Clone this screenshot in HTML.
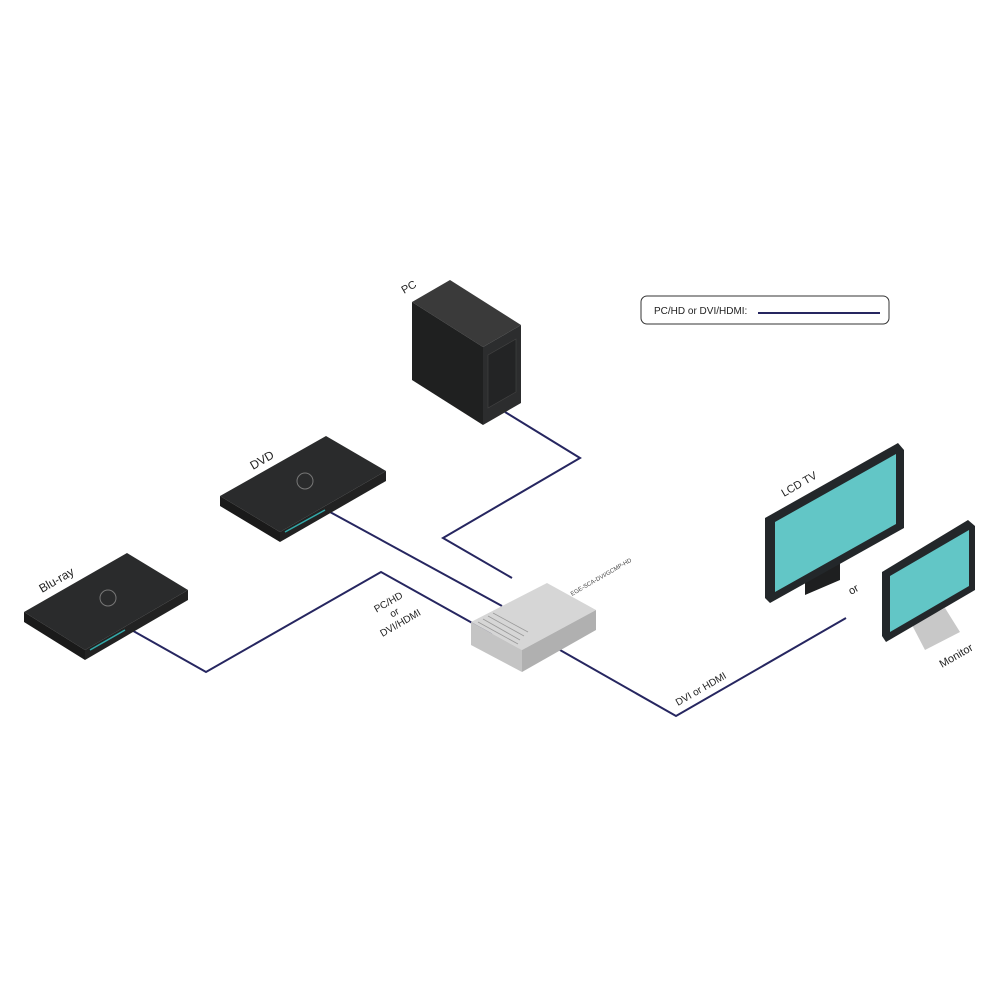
<!DOCTYPE html>
<html><head><meta charset="utf-8"><style>body{margin:0;background:#fff}svg{display:block;font-family:"Liberation Sans",sans-serif}</style></head><body>
<svg width="1000" height="1000" viewBox="0 0 1000 1000">
<g fill="none" stroke="#262660" stroke-width="2">
<polyline points="505,412 580,458 443,538 512,578"/>
<polyline points="330,512 502,606"/>
<polyline points="128,628 206,672 381,572 492,634"/>
<polyline points="560,650 676,716 846,618"/>
</g>
<!-- legend -->
<rect x="641" y="296" width="248" height="28" rx="6" fill="#fff" stroke="#333" stroke-width="1"/>
<text x="654" y="314" font-size="10" fill="#222">PC/HD or DVI/HDMI:</text>
<line x1="758" y1="313" x2="880" y2="313" stroke="#262660" stroke-width="2"/>
<!-- PC -->
<polygon points="412,302 450,280 521,325 483,347" fill="#3a3a3a"/>
<polygon points="412,302 483,347 483,425 412,380" fill="#1f2020"/>
<polygon points="483,347 521,325 521,403 483,425" fill="#2c2d2e"/>
<polygon points="488,355 516,339 516,392 488,408" fill="#232425" stroke="#444" stroke-width="0.6"/>
<text x="0" y="0" font-size="11" fill="#222" transform="translate(404,294) rotate(-30)">PC</text>
<!-- DVD -->
<polygon points="220,496 326,436 386,471 280,532" fill="#2a2b2c"/>
<polygon points="220,496 280,532 280,542 220,506" fill="#1a1a1a"/>
<polygon points="280,532 386,471 386,481 280,542" fill="#222"/>
<circle cx="305" cy="481" r="8" fill="none" stroke="#777" stroke-width="1"/>
<line x1="285" y1="532" x2="325" y2="510" stroke="#3aa" stroke-width="1.5"/>
<text x="0" y="0" font-size="12" fill="#222" transform="translate(253,470) rotate(-30)">DVD</text>
<!-- Blu-ray -->
<polygon points="24,612 127,553 188,590 85,650" fill="#2a2b2c"/>
<polygon points="24,612 85,650 85,660 24,622" fill="#1a1a1a"/>
<polygon points="85,650 188,590 188,600 85,660" fill="#222"/>
<circle cx="108" cy="598" r="8" fill="none" stroke="#777" stroke-width="1"/>
<line x1="90" y1="650" x2="125" y2="630" stroke="#3aa" stroke-width="1.5"/>
<text x="0" y="0" font-size="12" fill="#222" transform="translate(42,593) rotate(-30)">Blu-ray</text>
<!-- central box -->
<polygon points="471,622 547,583 596,610 522,650" fill="#d6d6d6"/>
<polygon points="471,622 522,650 522,672 471,645" fill="#c4c4c4"/>
<polygon points="522,650 596,610 596,630 522,672" fill="#b0b0b0"/>
<g stroke="#999" stroke-width="0.8">
<line x1="478" y1="622" x2="518" y2="644"/><line x1="483" y1="619" x2="520" y2="640"/>
<line x1="488" y1="616" x2="524" y2="636"/><line x1="493" y1="613" x2="528" y2="632"/>
</g>
<text x="0" y="0" font-size="6" fill="#444" transform="translate(572,596) rotate(-30)">EGE-SCA-DVI/GCMP-HD</text>
<text x="0" y="0" font-size="10" fill="#222" text-anchor="middle" transform="translate(390,605) rotate(-30)"><tspan x="0" y="0">PC/HD</tspan><tspan x="0" y="12">or</tspan><tspan x="0" y="24">DVI/HDMI</tspan></text>
<text x="0" y="0" font-size="10" fill="#222" transform="translate(678,706) rotate(-30)">DVI or HDMI</text>
<!-- LCD TV -->
<polygon points="805,580 840,560 840,580 805,595" fill="#1e1f20"/>
<polygon points="765,518 898,443 904,450 904,528 770,603 765,598" fill="#23272a"/>
<polygon points="775,522 896,454 896,524 775,592" fill="#62c6c6"/>
<text x="0" y="0" font-size="11" fill="#222" transform="translate(784,497) rotate(-30)">LCD TV</text>
<text x="0" y="0" font-size="11" fill="#222" transform="translate(851,595) rotate(-30)">or</text>
<!-- Monitor -->
<polygon points="912,625 945,608 960,632 925,650" fill="#c8c8c8"/>
<polygon points="882,572 968,520 975,526 975,590 886,642 882,636" fill="#23272a"/>
<polygon points="890,576 969,530 969,586 890,632" fill="#62c6c6"/>
<text x="0" y="0" font-size="11" fill="#222" transform="translate(942,668) rotate(-30)">Monitor</text>
</svg>
</body></html>
